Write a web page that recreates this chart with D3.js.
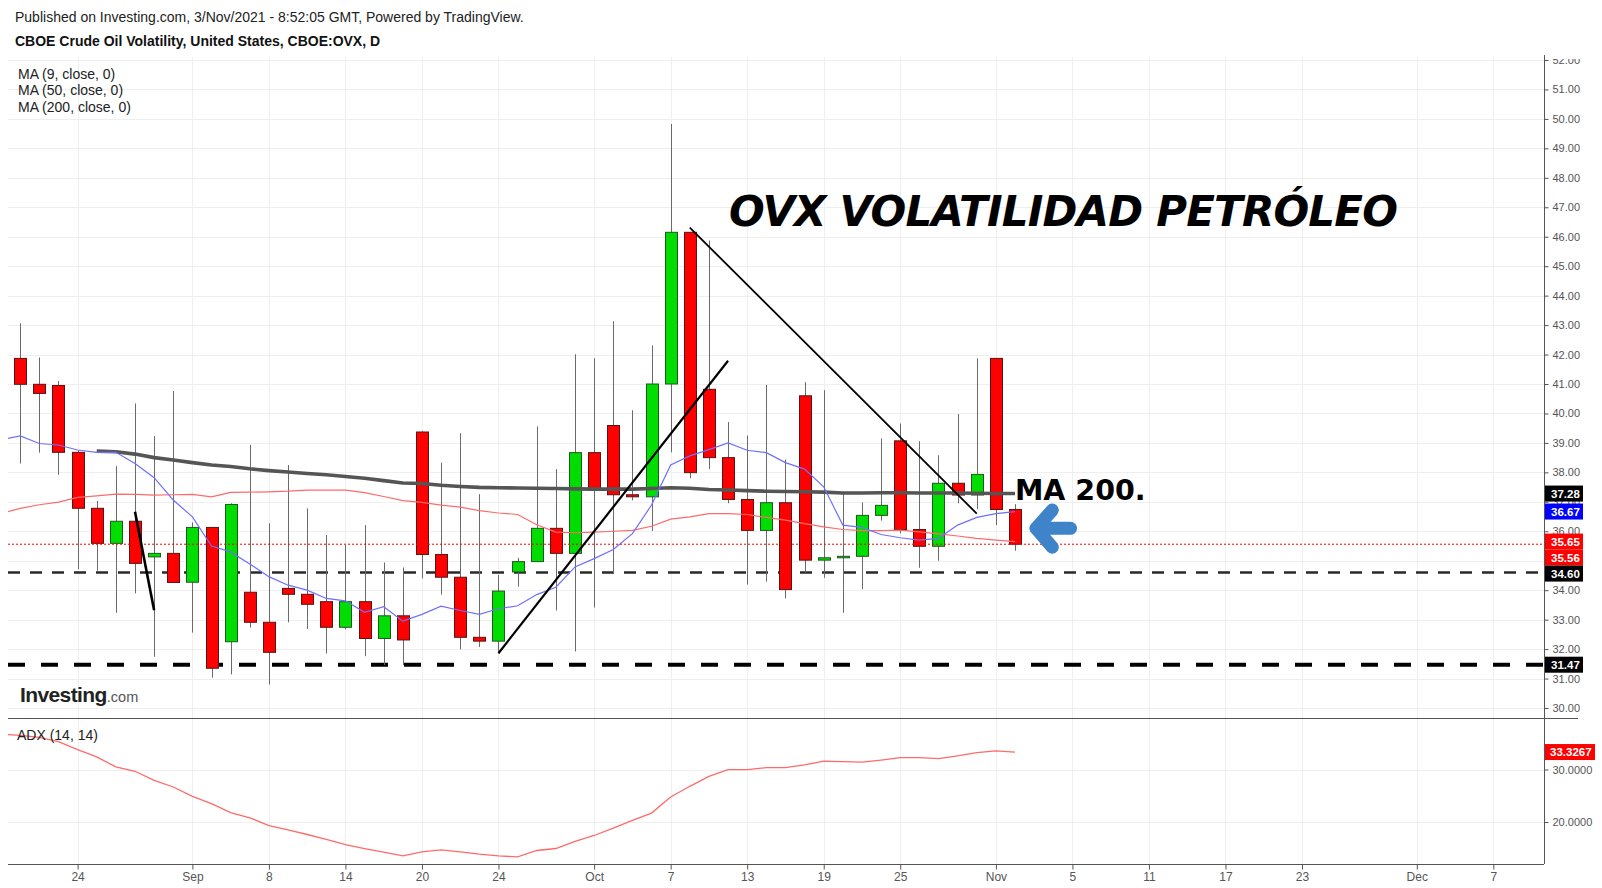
<!DOCTYPE html>
<html><head><meta charset="utf-8">
<script src="https://cdn.jsdelivr.net/npm/d3@7"></script>
<style>
body{margin:0;background:#fff;}
svg{display:block;font-family:"Liberation Sans",Arial,sans-serif;}
</style></head><body>
<svg id="chart" width="1602" height="888"></svg>
<script>
// ---------------- DATA ----------------
const sessions = ["2021-08-18","2021-08-19","2021-08-20","2021-08-23","2021-08-24","2021-08-25","2021-08-26","2021-08-27","2021-08-30","2021-08-31",
"2021-09-01","2021-09-02","2021-09-03","2021-09-07","2021-09-08","2021-09-09","2021-09-10","2021-09-13","2021-09-14","2021-09-15","2021-09-16","2021-09-17",
"2021-09-20","2021-09-21","2021-09-22","2021-09-23","2021-09-24","2021-09-27","2021-09-28","2021-09-29","2021-09-30",
"2021-10-01","2021-10-04","2021-10-05","2021-10-06","2021-10-07","2021-10-08","2021-10-11","2021-10-12","2021-10-13","2021-10-14","2021-10-15",
"2021-10-18","2021-10-19","2021-10-20","2021-10-21","2021-10-22","2021-10-25","2021-10-26","2021-10-27","2021-10-28","2021-10-29","2021-11-01","2021-11-02"];

const candleDates = sessions.slice(1);
const open  = [41.87,40.99,40.95,38.68,36.78,35.59,36.34,35.13,35.25,34.27,36.13,32.25,33.93,32.91,34.06,33.86,33.61,32.74,33.61,32.36,33.13,39.37,35.21,34.44,32.40,32.27,34.62,34.97,36.10,35.25,38.67,39.59,37.24,37.17,41.00,46.15,40.82,38.50,37.08,36.03,36.97,40.60,35.02,35.10,35.15,36.54,39.07,36.06,35.49,37.63,37.23,41.87,36.74];
const high  = [43.06,41.90,41.10,38.75,37.03,38.21,40.34,39.23,40.76,36.30,36.13,36.95,38.93,36.27,38.25,36.78,35.87,35.53,36.21,34.94,34.77,39.40,38.33,39.33,37.26,34.52,35.10,39.56,38.11,42.01,41.87,43.13,40.11,42.31,49.83,46.15,45.87,39.71,39.25,40.97,38.43,41.06,40.79,37.29,36.98,39.15,39.66,39.06,38.58,39.98,41.87,41.87,36.92];
const low   = [38.30,38.67,37.92,34.71,34.66,33.23,33.89,31.74,34.26,32.56,31.03,31.14,32.73,30.80,32.91,32.68,31.85,32.67,31.76,31.46,31.46,34.40,33.85,31.99,32.07,31.86,34.12,34.97,33.31,31.92,33.41,34.56,37.05,36.01,38.68,37.80,38.11,36.95,34.19,34.29,33.72,34.60,34.42,33.23,34.03,36.36,35.93,34.76,35.00,36.95,36.75,36.21,35.34];
const close = [40.99,40.68,38.68,36.78,35.59,36.34,34.91,35.25,34.26,36.13,31.35,36.91,32.91,31.89,33.86,33.52,32.74,33.61,32.36,33.13,32.31,35.21,34.44,32.40,32.27,33.97,34.97,36.10,35.25,38.67,37.39,37.24,37.17,41.00,46.15,37.99,38.50,37.08,36.03,36.97,34.02,35.02,35.10,35.15,36.54,36.88,36.06,35.49,37.63,37.23,37.93,36.74,35.56];

const ma9Dates = sessions;
const ma9 = [39.10,39.24,38.98,38.93,38.76,38.68,38.68,38.30,37.82,37.06,36.49,35.50,35.30,34.89,34.46,34.17,34.00,33.72,33.64,33.25,33.44,32.95,33.18,33.46,33.31,33.18,33.37,33.47,33.85,34.10,34.79,35.07,35.38,35.92,36.89,38.25,38.56,38.77,39.00,38.75,38.67,38.33,38.11,37.51,36.21,36.13,35.89,35.78,35.70,35.76,36.21,36.47,36.60,36.67];
const ma50Dates = sessions;
const ma50 = [36.60,36.78,36.90,36.99,37.15,37.20,37.26,37.25,37.23,37.24,37.25,37.17,37.32,37.33,37.34,37.36,37.40,37.40,37.40,37.31,37.18,37.04,36.98,36.89,36.82,36.70,36.62,36.57,36.22,35.97,35.95,35.97,36.00,36.03,36.17,36.41,36.49,36.60,36.60,36.57,36.47,36.38,36.26,36.15,36.06,36.02,36.02,36.04,35.98,35.91,35.84,35.76,35.70,35.65];
const ma200Dates = sessions.slice(5);
const ma200 = [38.72,38.70,38.62,38.50,38.42,38.33,38.25,38.20,38.12,38.06,38.01,37.96,37.92,37.86,37.80,37.72,37.64,37.62,37.56,37.52,37.49,37.48,37.47,37.46,37.45,37.44,37.43,37.43,37.43,37.45,37.48,37.46,37.42,37.40,37.38,37.36,37.35,37.34,37.33,37.30,37.30,37.31,37.31,37.30,37.30,37.30,37.29,37.28,37.28];
const adxDates = sessions;
const adx = [36.7,36.5,36.1,35.3,33.8,32.4,30.5,29.66,27.94,26.67,24.88,23.49,21.77,20.80,19.33,18.51,17.62,16.67,15.71,14.95,14.25,13.54,14.30,14.69,14.30,13.87,13.54,13.35,14.57,14.95,16.29,17.43,18.84,20.30,21.70,24.76,26.80,28.70,29.98,29.98,30.36,30.36,30.88,31.58,31.50,31.39,31.80,32.27,32.25,32.08,32.60,33.20,33.55,33.3267];

const tickDates  = ["2021-08-24","2021-09-01","2021-09-08","2021-09-14","2021-09-20","2021-09-24","2021-10-01","2021-10-07","2021-10-13","2021-10-19","2021-10-25","2021-11-01","2021-11-05","2021-11-11","2021-11-17","2021-11-23","2021-12-01","2021-12-07"];
const tickLabels = ["24","Sep","8","14","20","24","Oct","7","13","19","25","Nov","5","11","17","23","Dec","7"];
const priceTicks = d3.range(30, 53);
const adxTicks = [20, 30];

const levels = [34.60, 31.47];
const trendLines = [
  {from:["2021-08-27",36.66], to:["2021-08-30",33.32], w:2.6},
  {from:["2021-09-24",31.86], to:["2021-10-12",41.79], w:2.2},
  {from:["2021-10-08",46.31], to:["2021-10-29",36.60], w:1.8}
];

// ---------------- LAYOUT ----------------
const plotL = 8, plotR = 1544, mainTop = 55, sep = 718, adxBot = 864;
const fmt = d3.timeFormat("%Y-%m-%d");
const future = d3.timeDay.range(new Date(2021,10,3), new Date(2021,11,11))
  .filter(d => d.getDay() !== 0 && d.getDay() !== 6).map(fmt);
const allSessions = sessions.concat(future);
const idx = d => allSessions.indexOf(d);

const x = d3.scaleLinear().domain([0.362, 80.65]).range([plotL, plotR]);
const y = d3.scaleLinear().domain([30, 52]).range([708, 60]);
const yA = d3.scaleLinear().domain([20, 30]).range([822, 769.5]);

const svg = d3.select("#chart");
const defs = svg.append("defs");
defs.append("clipPath").attr("id","clipMain").append("rect").attr("x",plotL).attr("y",mainTop).attr("width",plotR-plotL).attr("height",sep-mainTop);
defs.append("clipPath").attr("id","clipAdx").append("rect").attr("x",plotL).attr("y",sep).attr("width",plotR-plotL).attr("height",adxBot-sep);
defs.append("clipPath").attr("id","clipAxis").append("rect").attr("x",plotR).attr("y",59).attr("width",60).attr("height",830);

// header
svg.append("text").attr("x",15).attr("y",22).attr("font-size",14).attr("fill","#222")
  .text("Published on Investing.com, 3/Nov/2021 - 8:52:05 GMT, Powered by TradingView.");
svg.append("text").attr("x",15).attr("y",46).attr("font-size",14).attr("font-weight","bold").attr("fill","#111")
  .text("CBOE Crude Oil Volatility, United States, CBOE:OVX, D");

// grid
const grid = svg.append("g");
const tickIdx = tickDates.map(idx);
grid.selectAll(".vg").data(tickIdx).join("line")
  .attr("x1",d=>Math.round(x(d))+0.5).attr("x2",d=>Math.round(x(d))+0.5)
  .attr("y1",57).attr("y2",adxBot).attr("stroke","#efefef");
grid.selectAll(".hg").data(priceTicks).join("line")
  .attr("x1",plotL).attr("x2",plotR).attr("y1",d=>Math.round(y(d))+0.5).attr("y2",d=>Math.round(y(d))+0.5)
  .attr("stroke","#efefef");
grid.selectAll(".ag").data(adxTicks).join("line")
  .attr("x1",plotL).attr("x2",plotR).attr("y1",d=>Math.round(yA(d))+0.5).attr("y2",d=>Math.round(yA(d))+0.5)
  .attr("stroke","#efefef");

const main = svg.append("g").attr("clip-path","url(#clipMain)");

// level lines
main.append("line").attr("x1",plotL).attr("x2",plotR).attr("y1",y(levels[0])).attr("y2",y(levels[0]))
  .attr("stroke","#2a2a2a").attr("stroke-width",2.6).attr("stroke-dasharray","12 10");
main.append("line").attr("x1",plotL).attr("x2",plotR).attr("y1",y(levels[1])).attr("y2",y(levels[1]))
  .attr("stroke","#000").attr("stroke-width",4).attr("stroke-dasharray","17 16");

// candles
const candles = candleDates.map((d,i)=>({i:idx(d),o:open[i],h:high[i],l:low[i],c:close[i]}));
const cg = main.append("g");
cg.selectAll(".wick").data(candles).join("line")
  .attr("x1",d=>Math.round(x(d.i))+0.5).attr("x2",d=>Math.round(x(d.i))+0.5)
  .attr("y1",d=>y(d.h)).attr("y2",d=>y(d.l)).attr("stroke","#6a6a6a").attr("stroke-width",1);
cg.selectAll(".body").data(candles).join("rect")
  .attr("x",d=>Math.round(x(d.i))-6+0.5).attr("width",12)
  .attr("y",d=>y(Math.max(d.o,d.c))).attr("height",d=>Math.max(1.5,Math.abs(y(d.o)-y(d.c))))
  .attr("fill",d=>d.c>=d.o?"#00dd00":"#ff0000")
  .attr("stroke",d=>d.c>=d.o?"#1e5a1e":"#5a1414").attr("stroke-width",1);

// moving averages
const line = (dates, vals, ys) => d3.line().x((v,k)=>x(idx(dates[k]))).y(v=>ys(v))(vals);
main.append("path").attr("d",line(ma50Dates,ma50,y)).attr("fill","none").attr("stroke","#ff6a6a").attr("stroke-width",1.2);
main.append("path").attr("d",line(ma200Dates,ma200,y)).attr("fill","none").attr("stroke","#555").attr("stroke-width",3.6).attr("stroke-linejoin","round");
main.append("path").attr("d",line(ma9Dates,ma9,y)).attr("fill","none").attr("stroke","#6f6fff").attr("stroke-width",1.2);

// price line
main.append("line").attr("x1",plotL).attr("x2",plotR).attr("y1",y(close[close.length-1])).attr("y2",y(close[close.length-1]))
  .attr("stroke","#ff0000").attr("stroke-width",1).attr("stroke-dasharray","2 2");

// trend lines
main.selectAll(".trend").data(trendLines).join("line")
  .attr("x1",d=>x(idx(d.from[0]))).attr("y1",d=>y(d.from[1]))
  .attr("x2",d=>x(idx(d.to[0]))).attr("y2",d=>y(d.to[1]))
  .attr("stroke","#000").attr("stroke-width",d=>d.w);

// annotations
svg.append("text").attr("x",729).attr("y",226)
  .attr("font-family","'DejaVu Sans',sans-serif").attr("font-weight","bold").attr("font-style","italic")
  .attr("font-size",42).attr("letter-spacing",-0.8).attr("fill","#000").text("OVX VOLATILIDAD PETRÓLEO");
svg.append("text").attr("x",1015).attr("y",500)
  .attr("font-family","'DejaVu Sans',sans-serif").attr("font-weight","bold")
  .attr("font-size",28.5).attr("fill","#000").text("MA 200.");
const lastI = idx(sessions[sessions.length-1]);
const arrow = [[lastI+1.95,36.72],[lastI+1.1,36.10],[lastI+1.95,35.46]];
svg.append("path").attr("d",d3.line()(arrow.map(p=>[x(p[0]),y(p[1])])))
  .attr("fill","none").attr("stroke","#3f84c8").attr("stroke-width",13).attr("stroke-linecap","round").attr("stroke-linejoin","round");
svg.append("path").attr("d",d3.line()([[x(lastI+1.1),y(36.10)],[x(lastI+2.9),y(36.10)]]))
  .attr("fill","none").attr("stroke","#3f84c8").attr("stroke-width",13).attr("stroke-linecap","round");

// legend
const legend = ["MA (9, close, 0)","MA (50, close, 0)","MA (200, close, 0)"];
svg.selectAll(".leg").data(legend).join("text").attr("x",18).attr("y",(d,i)=>78.5+i*16.8)
  .attr("font-size",14).attr("fill","#222").text(d=>d);

// Investing logo
const logo = svg.append("text").attr("x",20).attr("y",702);
logo.append("tspan").attr("font-size",21).attr("font-weight","bold").attr("letter-spacing",-0.6).attr("fill","#222").text("Investing");
logo.append("tspan").attr("font-size",14.5).attr("fill","#555").text(".com");

// ADX
const ag = svg.append("g").attr("clip-path","url(#clipAdx)");
ag.append("path").attr("d",line(adxDates,adx,yA)).attr("fill","none").attr("stroke","#ff6a6a").attr("stroke-width",1.3);
svg.append("text").attr("x",17).attr("y",740).attr("font-size",14).attr("fill","#222").text("ADX (14, 14)");

// frame lines
svg.append("line").attr("x1",plotL).attr("x2",1578).attr("y1",sep+0.5).attr("y2",sep+0.5).attr("stroke","#555");
svg.append("line").attr("x1",plotL).attr("x2",plotR).attr("y1",adxBot+0.5).attr("y2",adxBot+0.5).attr("stroke","#555");
svg.append("line").attr("x1",plotR+0.5).attr("x2",plotR+0.5).attr("y1",55).attr("y2",adxBot).attr("stroke","#555");

// axes
const styleAxis = g => { g.select(".domain").remove(); g.selectAll(".tick line").attr("stroke","#555");
  g.selectAll("text").attr("fill","#555").attr("font-family","'Liberation Sans',Arial,sans-serif"); };
svg.append("g").attr("clip-path","url(#clipAxis)").append("g").attr("transform",`translate(${plotR+0.5},0)`)
  .call(d3.axisRight(y).tickValues(priceTicks).tickFormat(d3.format(".2f")).tickSize(4).tickPadding(4))
  .attr("font-size",11).call(styleAxis);
svg.append("g").attr("transform",`translate(${plotR+0.5},0)`)
  .call(d3.axisRight(yA).tickValues(adxTicks).tickFormat(d3.format(".4f")).tickSize(4).tickPadding(4))
  .attr("font-size",11).call(styleAxis);
svg.append("g").attr("transform",`translate(0,${adxBot+0.5})`)
  .call(d3.axisBottom(x).tickValues(tickIdx).tickFormat((d,i)=>tickLabels[i]).tickSize(5).tickPadding(3))
  .attr("font-size",12).call(styleAxis);

// right-side value labels
const last = a => a[a.length-1];
const tags = [
  {v:last(ma200), bg:"#000000", t:d3.format(".2f")(last(ma200))},
  {v:last(ma9),   bg:"#0000ff", t:d3.format(".2f")(last(ma9))},
  {v:last(ma50),  bg:"#ff0000", t:d3.format(".2f")(last(ma50))},
  {v:last(close), bg:"#ff0000", t:d3.format(".2f")(last(close))},
  {v:levels[0],   bg:"#000000", t:d3.format(".2f")(levels[0])},
  {v:levels[1],   bg:"#000000", t:d3.format(".2f")(levels[1])}
].map(d=>({...d, yy:y(d.v)})).sort((a,b)=>a.yy-b.yy);
for (let k=1;k<tags.length;k++) if (tags[k].yy - tags[k-1].yy < 16) tags[k].yy = tags[k-1].yy + 16;
const tg = svg.append("g");
tags.forEach(d=>{
  tg.append("rect").attr("x",plotR+1).attr("y",d.yy-8).attr("width",38).attr("height",16).attr("fill",d.bg);
  tg.append("text").attr("x",plotR+7).attr("y",d.yy+4).attr("font-size",11.5).attr("font-weight","bold").attr("fill","#fff").text(d.t);
});
const ay = yA(last(adx));
tg.append("rect").attr("x",plotR+1).attr("y",ay-8).attr("width",50).attr("height",16).attr("fill","#ff0000");
tg.append("text").attr("x",plotR+6).attr("y",ay+4).attr("font-size",11.5).attr("font-weight","bold").attr("fill","#fff").text(d3.format(".4f")(last(adx)));
</script>
</body></html>
